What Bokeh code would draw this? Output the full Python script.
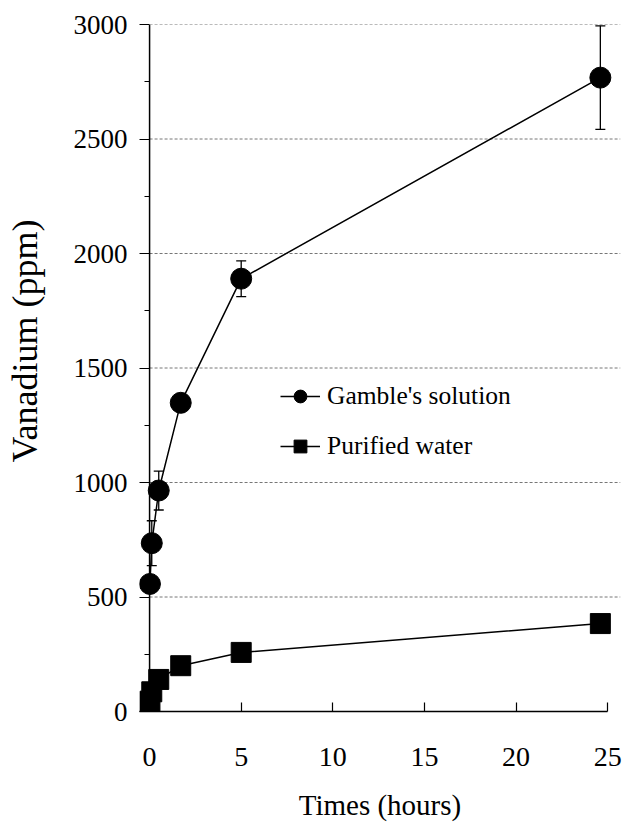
from bokeh.plotting import figure
from bokeh.models import (Range1d, FixedTicker, ColumnDataSource, Whisker, TeeHead,
                          Legend, LegendItem, Span, LinearAxis)
from bokeh.embed import file_html
from bokeh.resources import INLINE

# ---- data ----
times = [0.02, 0.12, 0.5, 1.7, 5.0, 24.6]
gamble = [557, 735, 965, 1348, 1890, 2768]
gamble_err = [20, 98, 85, 25, 78, 226]
water = [45, 86, 140, 200, 258, 384]
x_ticks = [0, 5, 10, 15, 20, 25]
y_ticks = [0, 500, 1000, 1500, 2000, 2500, 3000]
y_minor = [250, 750, 1250, 1750, 2250, 2750]
grid_vals = [500, 1000, 1500, 2000, 2500, 3000]

FONT = "Liberation Serif"
X_START, X_END = -0.55, 25.7

p = figure(width=633, height=823, x_range=Range1d(X_START, X_END), y_range=Range1d(0, 3000),
           output_backend="svg", toolbar_location=None,
           min_border_left=139, min_border_right=13, min_border_top=24, min_border_bottom=111)
p.outline_line_color = None
p.xgrid.visible = False
p.ygrid.visible = False
p.background_fill_color = "white"
p.border_fill_color = "white"

# dashed horizontal gridlines starting at x = 0
gsrc = ColumnDataSource(dict(y=grid_vals, x0=[0] * len(grid_vals), x1=[X_END] * len(grid_vals)))
p.segment(x0="x0", x1="x1", y0="y", y1="y", source=gsrc, line_color="#777777",
          line_width=1, line_dash="3 2")

# y axis line at x = 0
p.add_layout(Span(location=0, dimension="height", line_color="black", line_width=1.5))

# series
gsrc2 = ColumnDataSource(dict(x=times, y=gamble,
                              lo=[g - e for g, e in zip(gamble, gamble_err)],
                              hi=[g + e for g, e in zip(gamble, gamble_err)]))
wsrc = ColumnDataSource(dict(x=times, y=water))

wh = Whisker(base="x", lower="lo", upper="hi", source=gsrc2, dimension="height",
             line_color="black", line_width=1.3,
             lower_head=TeeHead(size=10, line_color="black", line_width=1.3),
             upper_head=TeeHead(size=10, line_color="black", line_width=1.3))
p.add_layout(wh)

gl = p.line("x", "y", source=gsrc2, line_color="black", line_width=1.5)
gm = p.scatter("x", "y", source=gsrc2, marker="circle", size=21, fill_color="black",
               line_color="black")
wl = p.line("x", "y", source=wsrc, line_color="black", line_width=1.5)
wm = p.scatter("x", "y", source=wsrc, marker="square", size=20, fill_color="black",
               line_color="black")

legend = Legend(items=[LegendItem(label="Gamble's solution", renderers=[gl, gm]),
                       LegendItem(label="Purified water", renderers=[wl, wm])],
                location=(141, 249), orientation="vertical",
                glyph_width=40, glyph_height=32, spacing=18, padding=0, margin=0,
                label_standoff=7, label_text_font=FONT, label_text_font_size="25.5px",
                label_text_color="black", background_fill_alpha=0, border_line_color=None)
p.add_layout(legend, "center")

# x axis
xa = p.xaxis[0]
xa.ticker = FixedTicker(ticks=x_ticks, minor_ticks=[])
xa.bounds = (X_START, 25)
xa.axis_line_color = "black"
xa.axis_line_width = 1.5
xa.major_tick_in = 9
xa.major_tick_out = 0
xa.major_tick_line_width = 1.2
xa.minor_tick_line_color = None
xa.major_label_standoff = 36
xa.major_label_text_font = FONT
xa.major_label_text_font_size = "28px"
xa.major_label_text_color = "black"
xa.axis_label = "Times (hours)"
xa.axis_label_text_font = FONT
xa.axis_label_text_font_size = "29px"
xa.axis_label_text_font_style = "normal"
xa.axis_label_text_color = "black"
xa.axis_label_standoff = 20

# y axis (drawn at the frame's left edge; ticks reach in to the x = 0 line)
ya = p.yaxis[0]
ya.ticker = FixedTicker(ticks=y_ticks, minor_ticks=y_minor)
ya.axis_line_color = None
ya.major_tick_in = 10
ya.major_tick_out = 0
ya.major_tick_line_width = 1.2
ya.minor_tick_in = 10
ya.minor_tick_out = -5
ya.minor_tick_line_width = 1.2
ya.major_label_standoff = 12
ya.major_label_text_font = FONT
ya.major_label_text_font_size = "27px"
ya.major_label_text_color = "black"

# second, tick-less left axis carrying only the title; leading no-break spaces
# lift the centred title a little above the frame's middle, as in the reference
title_axis = LinearAxis(ticker=FixedTicker(ticks=[], minor_ticks=[]),
                        axis_line_color=None, major_tick_line_color=None,
                        minor_tick_line_color=None, major_label_text_font_size="0px",
                        axis_label="\u00a0" * 6 + "Vanadium (ppm)", axis_label_text_font=FONT,
                        axis_label_text_font_size="36px", axis_label_text_font_style="normal",
                        axis_label_text_color="black", axis_label_standoff=26)
p.add_layout(title_axis, "left")

open("out.html", "w").write(file_html(p, INLINE))
